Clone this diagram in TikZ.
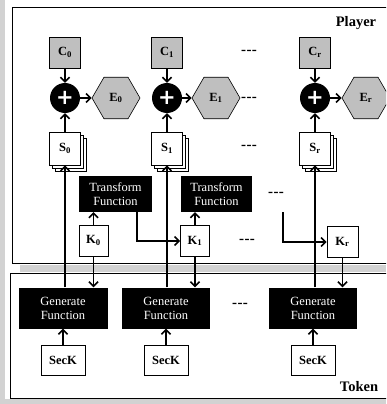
\documentclass[tikz,border=0pt]{standalone}
\usepackage{fontspec}
\setmainfont{Liberation Serif}
\newfontfamily\plusfont{DejaVu Sans}
\usetikzlibrary{shapes.geometric,arrows.meta,shadows}
\begin{document}
\begin{tikzpicture}[x=1pt,y=-1pt,
  arr/.style={line width=1.8pt,-{Straight Barb[length=4.5pt,width=9pt,line width=1.6pt]}},
  frame/.style={line width=0.8pt},
  strip/.style={fill=gray!35},
  cbox/.style={draw,line width=0.6pt,fill=gray!50,minimum width=31pt,minimum height=31pt,inner sep=0pt,font=\fontsize{12.5}{12.5}\selectfont\bfseries},
  hexa/.style={draw,line width=0.6pt,fill=gray!50,regular polygon,regular polygon sides=6,minimum size=48pt,inner sep=0pt,font=\fontsize{12.5}{12.5}\selectfont\bfseries},
  plusnode/.style={circle,fill=black,minimum size=30pt,inner sep=0pt,text=white,font=\plusfont\bfseries\fontsize{21}{21}\selectfont},
  sbox/.style={draw,line width=0.6pt,fill=white,minimum width=31pt,minimum height=33pt,inner sep=0pt,font=\fontsize{12.5}{12.5}\selectfont\bfseries,
    double copy shadow={shadow xshift=3pt,shadow yshift=-3pt,draw,fill=white}},
  kbox/.style={draw,line width=0.6pt,fill=white,minimum width=29pt,minimum height=31pt,inner sep=0pt,font=\fontsize{12.5}{12.5}\selectfont\bfseries},
  blk/.style={fill=black,text=white,align=center,inner sep=0pt,font=\fontsize{12.5}{14}\selectfont},
  seck/.style={draw,line width=0.6pt,fill=white,minimum width=44pt,minimum height=30pt,inner sep=0pt,font=\fontsize{12.5}{12.5}\selectfont\bfseries},
  dots/.style={font=\fontsize{15}{15}\selectfont\bfseries,inner sep=0pt},
  ttl/.style={font=\fontsize{14.5}{14.5}\selectfont\bfseries,inner sep=0pt}]
\clip (0,0) rectangle (386,404);
% background strips and frames
\fill[strip] (0,0) rectangle (5,404);
\fill[strip] (0,399) rectangle (386,404);
\fill[strip] (20,265) rectangle (386,272);
\draw[frame] (12,7) -- (390,7);
\draw[frame] (390,263) -- (12,263) -- (12,7);
\draw[frame] (390,273) -- (10,273) -- (10,398) -- (390,398);
\node[ttl] (player) at (356,23) {Player};
\node[ttl] (token) at (359,387) {Token};
% column 0
\node[cbox] (C0) at (65,52.5) {C$_{\mathbf 0}$};
\node[plusnode] (P0) at (65,98) {+};
\node[hexa] (E0) at (116,98) {E$_{\mathbf 0}$};
\node[sbox] (S0) at (65,148.5) {S$_{\mathbf 0}$};
\node[blk,minimum width=73pt,minimum height=36pt] (T0) at (115.5,194) {Transform\\Function};
\node[kbox] (K0) at (93.5,240.5) {K$_{\mathbf 0}$};
\node[blk,minimum width=89pt,minimum height=41pt] (G0) at (63,308) {Generate\\Function};
\node[seck] (SK0) at (63,360) {SecK};
% column 1
\node[cbox] (C1) at (167,52.5) {C$_{\mathbf 1}$};
\node[plusnode] (P1) at (167,98) {+};
\node[hexa] (E1) at (216,98) {E$_{\mathbf 1}$};
\node[sbox] (S1) at (167,148.5) {S$_{\mathbf 1}$};
\node[blk,minimum width=71pt,minimum height=36pt] (T1) at (216.5,194) {Transform\\Function};
\node[kbox] (K1) at (195,241) {K$_{\mathbf 1}$};
\node[blk,minimum width=88pt,minimum height=41pt] (G1) at (166,308) {Generate\\Function};
\node[seck] (SK1) at (166,360) {SecK};
% column r
\node[cbox] (Cr) at (315,52.5) {C$_{\mathbf r}$};
\node[plusnode] (Pr) at (315,98) {+};
\node[hexa] (Er) at (366,98) {E$_{\mathbf r}$};
\node[sbox] (Sr) at (315,148.5) {S$_{\mathbf r}$};
\node[kbox,minimum width=31pt] (Kr) at (342.5,242) {K$_{\mathbf r}$};
\node[blk,minimum width=88pt,minimum height=41pt] (Gr) at (313,308) {Generate\\Function};
\node[seck] (SKr) at (313,360) {SecK};
% dots
\node[dots] (d1) at (249,52) {-\kern0.5pt-\kern0.5pt-};
\node[dots] (d2) at (249,99) {-\kern0.5pt-\kern0.5pt-};
\node[dots] (d3) at (249,147) {-\kern0.5pt-\kern0.5pt-};
\node[dots] (d4) at (276,194) {-\kern0.5pt-\kern0.5pt-};
\node[dots] (d5) at (247,241) {-\kern0.5pt-\kern0.5pt-};
\node[dots] (d6) at (240,305) {-\kern0.5pt-\kern0.5pt-};
\coordinate (fr) at (283,212);
% connectors
\foreach \i in {0,1,r}{
  \draw[arr] (C\i) -- (P\i);
  \draw[arr] (P\i) -- (E\i);
  \draw[arr] (S\i) -- (P\i);
  \draw[arr] (G\i.north -| S\i.south) -- (S\i.south);
  \draw[arr] (SK\i) -- (G\i);
  \draw[arr] (K\i.south) -- (K\i.south |- G\i.north);
}
\draw[arr] (K0.north) -- (K0.north |- T0.south);
\draw[arr] (K1.north) -- (K1.north |- T1.south);
\draw[arr] ([xshift=-15pt]T0.south east) |- (K1.west);
\draw[arr] (fr) |- (Kr.west);
\end{tikzpicture}
\end{document}
